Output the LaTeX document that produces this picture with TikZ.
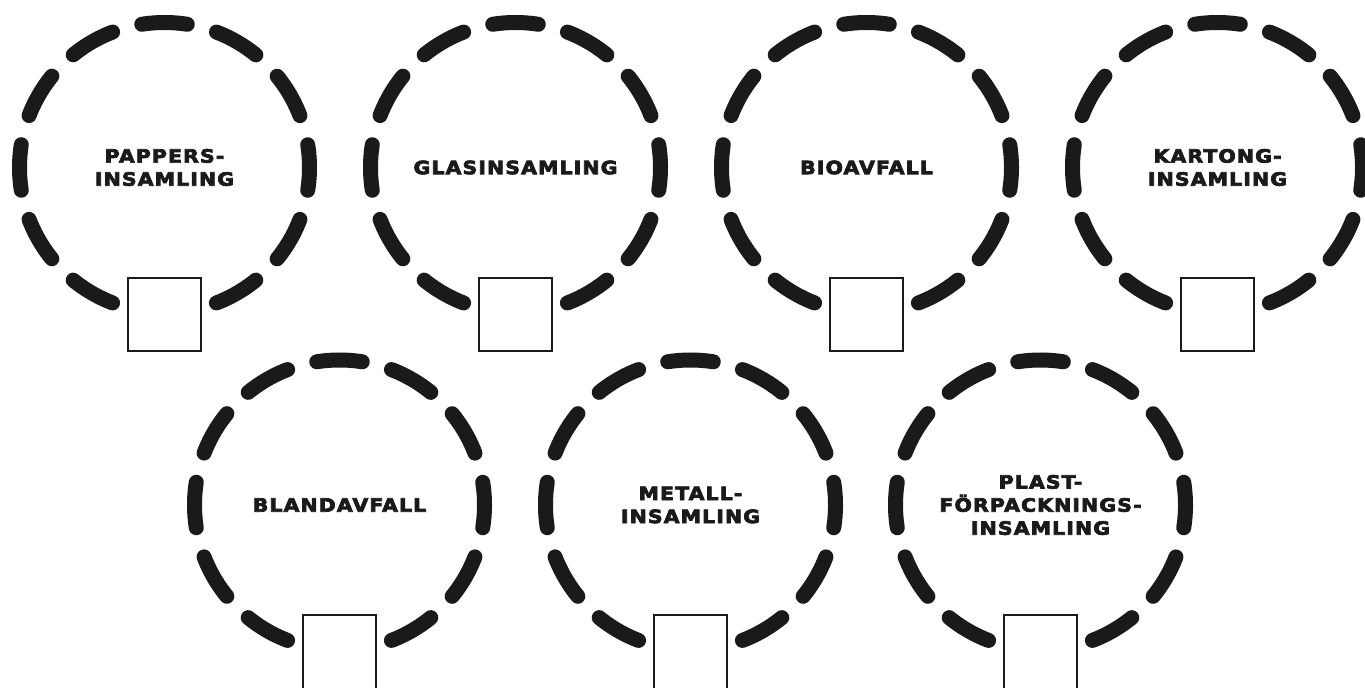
\documentclass[tikz,border=0pt]{standalone}
\usepackage{fontspec}
\newfontfamily\sortfont{DejaVu Sans}[LetterSpace=6, FakeStretch=1.12,
  BoldFeatures={FakeBold=4}]
\usepackage{tikz}
\usetikzlibrary{positioning}

\definecolor{ink}{HTML}{1A1A1A}

\tikzset{
  sortring/.style={draw=ink, line width=10.67pt, line cap=round,
    dash pattern=on 32.5pt off 21.5pt, dash phase=16.25pt},
  sorttext/.style={align=center, text=ink, inner sep=0pt,
    font=\sortfont\bfseries\fontsize{13}{16.4}\selectfont},
  sortbox/.style={draw=ink, fill=white, line width=1.4pt,
    minimum size=52pt, inner sep=0pt}
}

\begin{document}
\begin{tikzpicture}[x=0.025cm,y=-0.025cm]
\useasboundingbox (0,0) rectangle (1365,688);

% upper row
\node[sorttext] (papper) at (164.5,167.5) {PAPPERS-\\INSAMLING};
\draw[sortring] (papper) circle (145);
\node[sortbox] (papperbox) at (164.5,314.5) {};

\node[sorttext] (glas) at (515.5,167.5) {GLASINSAMLING};
\draw[sortring] (glas) circle (145);
\node[sortbox] (glasbox) at (515.5,314.5) {};

\node[sorttext] (bio) at (866.5,167.5) {BIOAVFALL};
\draw[sortring] (bio) circle (145);
\node[sortbox] (biobox) at (866.5,314.5) {};

\node[sorttext] (kartong) at (1217.5,167.5) {KARTONG-\\INSAMLING};
\draw[sortring] (kartong) circle (145);
\node[sortbox] (kartongbox) at (1217.5,314.5) {};

% lower row
\node[sorttext] (bland) at (339.5,505) {BLANDAVFALL};
\draw[sortring] (bland) circle (145);
\node[sortbox] (blandbox) at (339.5,652) {};

\node[sorttext] (metall) at (690.5,505) {METALL-\\INSAMLING};
\draw[sortring] (metall) circle (145);
\node[sortbox] (metallbox) at (690.5,652) {};

\node[sorttext] (plast) at (1040.5,505) {PLAST-\\FÖRPACKNINGS-\\INSAMLING};
\draw[sortring] (plast) circle (145);
\node[sortbox] (plastbox) at (1040.5,652) {};
\end{tikzpicture}
\end{document}
